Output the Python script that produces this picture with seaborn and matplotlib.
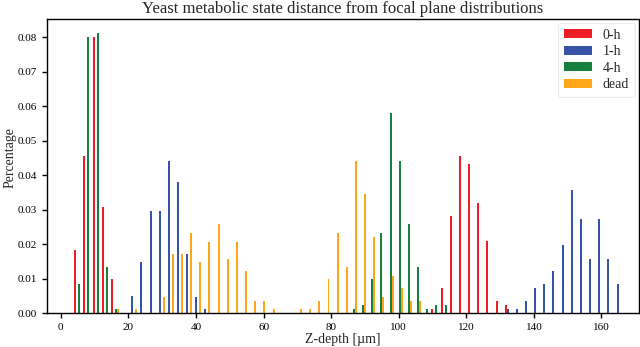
import numpy as np
import pandas as pd
import matplotlib
matplotlib.use("Agg")
import matplotlib.pyplot as plt
import seaborn as sns
from matplotlib.patches import Patch

# ---- data (histogram bins, shared by all series) ----
bin_start = 3.8
bin_width = 2.71
n_bins = 60

series_names = ["0-h", "1-h", "4-h", "dead"]
series_colors = ["#ee1c24", "#3653a8", "#17803d", "#ffa51a"]

h0 = [0.0183, 0.0456, 0.0800, 0.0307, 0.0098, 0, 0, 0, 0, 0,
      0, 0, 0, 0, 0, 0, 0, 0, 0, 0,
      0, 0, 0, 0, 0, 0, 0, 0, 0, 0,
      0, 0, 0, 0, 0, 0, 0, 0, 0, 0.0012,
      0.0072, 0.0282, 0.0456, 0.0432, 0.0320, 0.0209, 0.0035, 0.0023, 0, 0,
      0, 0, 0, 0, 0, 0, 0, 0, 0, 0]
h1 = [0, 0, 0, 0, 0, 0, 0.0050, 0.0149, 0.0296, 0.0296,
      0.0442, 0.0381, 0.0171, 0.0048, 0.0012, 0, 0, 0, 0, 0,
      0, 0, 0, 0, 0, 0, 0, 0, 0, 0,
      0, 0, 0, 0, 0, 0, 0, 0, 0, 0,
      0, 0, 0, 0, 0, 0, 0, 0.0012, 0.0012, 0.0035,
      0.0072, 0.0085, 0.0122, 0.0197, 0.0356, 0.0272, 0.0158, 0.0272, 0.0158, 0.0085]
h4 = [0.0085, 0.0800, 0.0812, 0.0135, 0.0012, 0, 0, 0, 0, 0,
      0, 0, 0, 0, 0, 0, 0, 0, 0, 0,
      0, 0, 0, 0, 0, 0, 0, 0, 0, 0,
      0.0012, 0.0023, 0.0098, 0.0232, 0.0580, 0.0441, 0.0258, 0.0133, 0.0012, 0.0023,
      0.0023, 0, 0, 0, 0, 0, 0, 0, 0, 0,
      0, 0, 0, 0, 0, 0, 0, 0, 0, 0]
dead = [0, 0, 0, 0, 0.0012, 0, 0.0012, 0, 0, 0.0048,
        0.0171, 0.0171, 0.0232, 0.0148, 0.0208, 0.0258, 0.0157, 0.0208, 0.0122, 0.0035,
        0.0035, 0.0012, 0, 0, 0.0012, 0.0012, 0.0035, 0.0098, 0.0232, 0.0133,
        0.0441, 0.0345, 0.0222, 0.0048, 0.0108, 0.0072, 0.0035, 0.0035, 0, 0,
        0, 0, 0, 0, 0, 0, 0, 0, 0, 0,
        0, 0, 0, 0, 0, 0, 0, 0, 0, 0]

y_ticks = [0.00, 0.01, 0.02, 0.03, 0.04, 0.05, 0.06, 0.07, 0.08]
x_ticks = [0, 20, 40, 60, 80, 100, 120, 140, 160]

# ---- build long table ----
bin_end = bin_start + bin_width * n_bins
edges = np.linspace(bin_start, bin_end, n_bins + 1)
centers = (edges[:-1] + edges[1:]) / 2
frames = []
for name, vals in zip(series_names, [h0, h1, h4, dead]):
    frames.append(pd.DataFrame({"z": centers, "w": np.asarray(vals, float), "state": name}))
df = pd.concat(frames, ignore_index=True)

sns.set_style("ticks")
plt.rcParams["font.family"] = ["Liberation Serif", "DejaVu Serif"]

fig = plt.figure(figsize=(6.4, 3.47), dpi=100)
ax = fig.add_axes([47 / 640, 1 - 313.3 / 347, (639 - 47) / 640, (313.3 - 19) / 347])

sns.histplot(data=df, x="z", weights="w", hue="state", hue_order=series_names,
             palette=series_colors, bins=n_bins, binrange=(bin_start, bin_end),
             multiple="dodge", shrink=0.87,
             alpha=1, linewidth=0, legend=False, ax=ax)

# crisp, even rendering of the very thin bars (2 px each)
for p in ax.patches:
    if p.get_height() > 0:
        p.set_linewidth(0)
        p.set_antialiased(False)

ax.set_xlim(-4.1, 171.1)
ax.set_ylim(0, 0.0853)
ax.set_xticks(x_ticks)
ax.set_yticks(y_ticks)
ax.set_yticklabels([f"{v:.2f}" for v in y_ticks])
ax.tick_params(labelsize=8, length=3.5, width=1, colors="black")
for s in ax.spines.values():
    s.set_linewidth(1)
    s.set_color("black")

ax.set_title("Yeast metabolic state distance from focal plane distributions",
             fontsize=12, pad=4)
ax.set_xlabel("Z-depth [\u00b5m]", fontsize=10, labelpad=1)
ax.set_ylabel("Percentage", fontsize=10)
ax.yaxis.set_label_coords(-0.052, 0.53)

handles = [Patch(facecolor=c, edgecolor="none", label=n)
           for n, c in zip(series_names, series_colors)]
leg = ax.legend(handles=handles, loc="upper right", fontsize=10, frameon=True,
                handlelength=2.0, handleheight=0.6, labelspacing=0.25,
                borderaxespad=0.3)
leg.get_frame().set_edgecolor("#e6e6e6")
leg.get_frame().set_linewidth(0.8)

fig.savefig("out.png", dpi=100)
